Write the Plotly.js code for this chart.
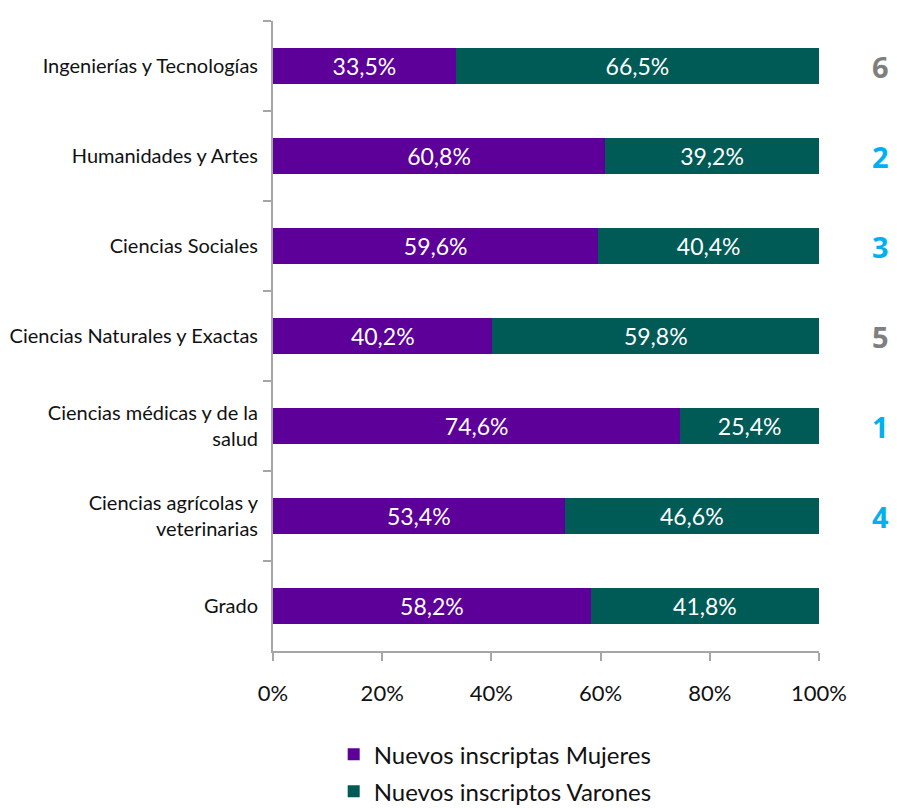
<!DOCTYPE html>
<html>
<head>
<meta charset="utf-8">
<script src="https://cdn.plot.ly/plotly-3.0.1.min.js"></script>
<style>html,body{margin:0;padding:0;background:#fff;}#chart{width:897px;height:808px;}</style>
</head>
<body>
<div id="chart"></div>
<script>
const categories = ["Ingenierías y Tecnologías", "Humanidades y Artes", "Ciencias Sociales", "Ciencias Naturales y Exactas", "Ciencias médicas y de la<br>salud", "Ciencias agrícolas y<br>veterinarias", "Grado"];
const mujeres = [33.5, 60.8, 59.6, 40.2, 74.6, 53.4, 58.2];
const varones = [66.5, 39.2, 40.4, 59.8, 25.4, 46.6, 41.8];
const ranks = ["6", "2", "3", "5", "1", "4", ""];
const rankColors = ["#7F7F7F", "#00B0F0", "#00B0F0", "#7F7F7F", "#00B0F0", "#00B0F0", "#7F7F7F"];
const seriesNames = ["Nuevos inscriptas Mujeres", "Nuevos inscriptos Varones"];

const fmt = v => v.toFixed(1).replace('.', ',') + '%';
const FONT = "Lato, 'Open Sans', sans-serif";

const traces = [
  {type: 'bar', orientation: 'h', name: seriesNames[0], y: categories, x: mujeres,
   text: mujeres.map(fmt), textposition: 'inside', insidetextanchor: 'middle',
   textfont: {color: '#ffffff', size: 23, family: FONT}, marker: {color: '#5C0099'},
   hoverinfo: 'none', width: 0.4, legend: 'legend'},
  {type: 'bar', orientation: 'h', name: seriesNames[1], y: categories, x: varones,
   text: varones.map(fmt), textposition: 'inside', insidetextanchor: 'middle',
   textfont: {color: '#ffffff', size: 23, family: FONT}, marker: {color: '#005A55'},
   hoverinfo: 'none', width: 0.4, legend: 'legend2'}
];

const annotations = categories.map((c, i) => ({
  xref: 'paper', yref: 'y', x: 1.112, y: c, text: ranks[i], showarrow: false,
  font: {size: 29, color: rankColors[i], family: "'Open Sans', sans-serif", weight: 'bold'},
  xanchor: 'center', yanchor: 'middle'
}));

const legendBase = {orientation: 'v', xref: 'container', yref: 'container',
  x: 0.372, xanchor: 'left', yanchor: 'top', itemwidth: 30,
  font: {size: 24, color: '#111111', family: FONT}};

const layout = {
  width: 897, height: 808,
  margin: {l: 273, r: 78, t: 21, b: 157, autoexpand: false},
  barmode: 'stack', bargap: 0.6,
  paper_bgcolor: '#ffffff', plot_bgcolor: '#ffffff',
  font: {family: FONT, color: '#111111'},
  showlegend: true,
  legend: Object.assign({}, legendBase, {y: 0.094}),
  legend2: Object.assign({}, legendBase, {y: 0.048}),
  xaxis: {range: [0, 100], dtick: 20, ticksuffix: '%', showgrid: false, zeroline: false,
          showline: true, linecolor: '#A6A6A6', linewidth: 2, ticks: 'outside', ticklen: 8,
          tickcolor: '#A6A6A6', tickwidth: 2, ticklabelstandoff: 14,
          tickfont: {size: 22, color: '#111111', family: FONT}, fixedrange: true},
  yaxis: {autorange: 'reversed', showgrid: false, zeroline: false, showline: true,
          linecolor: '#A6A6A6', linewidth: 2, ticks: 'outside', ticklen: 8, tickcolor: '#A6A6A6',
          tickwidth: 2, tickson: 'boundaries', ticklabelstandoff: 9,
          tickfont: {size: 20, color: '#111111', family: FONT}, fixedrange: true},
  annotations: annotations
};

Plotly.newPlot('chart', traces, layout, {displayModeBar: false, staticPlot: true});
</script>
</body>
</html>
